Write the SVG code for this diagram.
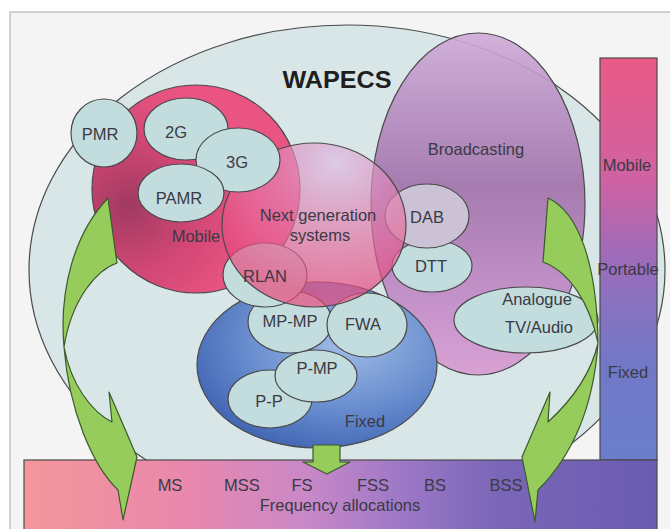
<svg xmlns="http://www.w3.org/2000/svg" width="670" height="529" viewBox="0 0 670 529">
<defs>
<style>
.lbl{font-family:"Liberation Sans",Arial,sans-serif;font-size:16.5px;fill:#3a3a44;text-anchor:middle}
.title{font-family:"Liberation Sans",Arial,sans-serif;font-size:23px;font-weight:bold;fill:#1e1e1e;text-anchor:middle}
.sub{fill:#c3dcdd;stroke:#4a4a4a;stroke-width:1.2}
.big{stroke:#4a4a4a;stroke-width:1.2}
.arrow{fill:#95cc5c;stroke:#3b5a2c;stroke-width:1.2;stroke-linejoin:round}
</style>
<radialGradient id="gMob" cx="0.18" cy="0.58" r="0.6">
<stop offset="0" stop-color="#a03a60"/>
<stop offset="0.5" stop-color="#cf4674"/>
<stop offset="1" stop-color="#ea5482"/>
</radialGradient>
<radialGradient id="gNext" cx="0.62" cy="0.12" r="0.8">
<stop offset="0" stop-color="#dcbce4"/>
<stop offset="0.4" stop-color="#e086b6"/>
<stop offset="1" stop-color="#e8467a"/>
</radialGradient>
<linearGradient id="gBro" x1="0" y1="0" x2="0" y2="1">
<stop offset="0" stop-color="#cfaad8"/>
<stop offset="0.45" stop-color="#a070aa"/>
<stop offset="0.8" stop-color="#c48ac8"/>
<stop offset="1" stop-color="#d89ad2"/>
</linearGradient>
<radialGradient id="gFix" cx="0.62" cy="0.35" r="0.75">
<stop offset="0" stop-color="#a0bee6"/>
<stop offset="0.6" stop-color="#6488cc"/>
<stop offset="1" stop-color="#3a5eae"/>
</radialGradient>
<linearGradient id="gBar" x1="0" y1="0" x2="0" y2="1">
<stop offset="0" stop-color="#ea5a86"/>
<stop offset="0.3" stop-color="#d062a2"/>
<stop offset="0.5" stop-color="#9c6cba"/>
<stop offset="0.75" stop-color="#7278c6"/>
<stop offset="1" stop-color="#6a7ecc"/>
</linearGradient>
<linearGradient id="gFreq" x1="0" y1="0" x2="1" y2="0">
<stop offset="0" stop-color="#f4969a"/>
<stop offset="0.25" stop-color="#ea88ac"/>
<stop offset="0.45" stop-color="#c888c8"/>
<stop offset="0.6" stop-color="#9c78c6"/>
<stop offset="0.75" stop-color="#7a66b8"/>
<stop offset="1" stop-color="#6a5cb0"/>
</linearGradient>
</defs>

<rect x="0" y="0" width="670" height="529" fill="#ffffff"/>
<rect x="10" y="12" width="670" height="530" fill="#f4f4f4" stroke="#a8a8a8" stroke-width="1"/>

<g id="wapecs">
<ellipse cx="347" cy="270" rx="318" ry="245" fill="#d9e6e8" class="big"/>
</g>

<g id="broadcasting">
<ellipse cx="478" cy="204" rx="107" ry="171" fill="url(#gBro)" fill-opacity="0.9" class="big"/>
</g>

<g id="mobile">
<circle cx="196" cy="189" r="104" fill="url(#gMob)" class="big"/>
</g>

<g id="fixed">
<ellipse cx="317" cy="365" rx="120" ry="83" fill="url(#gFix)" class="big"/>
</g>

<g id="p-p"><ellipse cx="270" cy="399" rx="42" ry="29" class="sub"/></g>
<g id="p-mp"><ellipse cx="316" cy="376" rx="41" ry="26" class="sub"/></g>
<g id="mp-mp"><ellipse cx="290" cy="322" rx="42" ry="31" class="sub"/></g>
<g id="fwa"><ellipse cx="367" cy="325" rx="40" ry="32" class="sub"/></g>
<g id="rlan"><ellipse cx="265" cy="275" rx="42" ry="32" class="sub"/></g>
<g id="dtt"><ellipse cx="432" cy="266" rx="40" ry="26" class="sub"/></g>
<g id="dab"><ellipse cx="427" cy="216" rx="42" ry="32" fill="#cbc2d6" stroke="#4a4a4a" stroke-width="1.2"/></g>

<g id="next-generation">
<ellipse cx="314" cy="225" rx="92" ry="82" fill="url(#gNext)" fill-opacity="0.68" class="big"/>
</g>

<g id="pmr"><ellipse cx="104" cy="133" rx="33" ry="34" class="sub"/></g>
<g id="g2"><ellipse cx="186" cy="129" rx="42" ry="31" class="sub"/></g>
<g id="g3"><ellipse cx="238" cy="160" rx="42" ry="32" class="sub"/></g>
<g id="pamr"><ellipse cx="181" cy="193" rx="43" ry="29" class="sub"/></g>
<g id="analogue"><ellipse cx="526" cy="320" rx="72" ry="33" class="sub"/></g>

<g id="usage-bar">
<rect x="600" y="58" width="57" height="402" fill="url(#gBar)" stroke="#4a4a4a" stroke-width="1.2"/>
</g>

<g id="frequency-allocations">
<rect x="24" y="460" width="633" height="80" fill="url(#gFreq)" stroke="#4a4a4a" stroke-width="1.2"/>
</g>

<g id="connectors">
<path class="arrow" d="M108,198 L117,263 C97,270 72,298 64,347 C71,385 92,412 112,422 L109,392 L137,457 L123,520 L118,490 C92,465 69,410 64,347 C59,290 74,234 108,198 Z"/>
<path class="arrow" d="M548,198 C578,212 597,262 598,343 C594,400 576,452 538,490 L535,522 L522,457 L550,392 L548,422 C572,400 591,374 598,343 C590,304 570,272 543,262 Z"/>
<path class="arrow" d="M313,445 L340,445 L340,462 L350,462 L327,474 L303,462 L313,462 Z"/>
</g>

<g id="labels">
<text class="title" x="337" y="88" textLength="109" lengthAdjust="spacingAndGlyphs">WAPECS</text>
<text class="lbl" x="100" y="140">PMR</text>
<text class="lbl" x="176" y="138">2G</text>
<text class="lbl" x="237" y="168">3G</text>
<text class="lbl" x="179" y="204">PAMR</text>
<text class="lbl" x="196" y="242">Mobile</text>
<text class="lbl" x="318" y="221">Next generation</text>
<text class="lbl" x="320" y="241">systems</text>
<text class="lbl" x="476" y="155">Broadcasting</text>
<text class="lbl" x="427" y="223">DAB</text>
<text class="lbl" x="431" y="272">DTT</text>
<text class="lbl" x="265" y="282">RLAN</text>
<text class="lbl" x="290" y="327">MP-MP</text>
<text class="lbl" x="363" y="330">FWA</text>
<text class="lbl" x="317" y="374">P-MP</text>
<text class="lbl" x="269" y="407">P-P</text>
<text class="lbl" x="365" y="427">Fixed</text>
<text class="lbl" x="537" y="305">Analogue</text>
<text class="lbl" x="539" y="333">TV/Audio</text>
<text class="lbl" x="627" y="171">Mobile</text>
<text class="lbl" x="628" y="275">Portable</text>
<text class="lbl" x="628" y="378">Fixed</text>
<text class="lbl" x="170" y="491">MS</text>
<text class="lbl" x="242" y="491">MSS</text>
<text class="lbl" x="302" y="491">FS</text>
<text class="lbl" x="373" y="491">FSS</text>
<text class="lbl" x="435" y="491">BS</text>
<text class="lbl" x="506" y="491">BSS</text>
<text class="lbl" x="340" y="511">Frequency allocations</text>
</g>
</svg>
